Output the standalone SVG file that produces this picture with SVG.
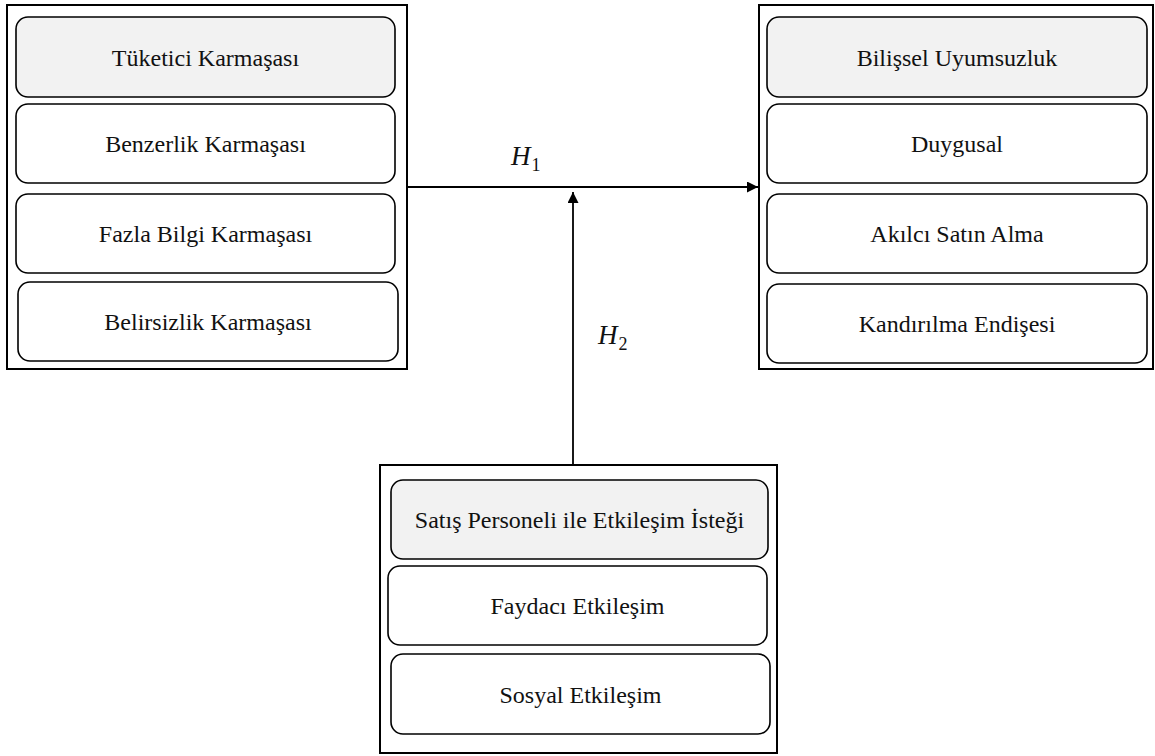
<svg xmlns="http://www.w3.org/2000/svg" width="1155" height="756" viewBox="0 0 1155 756">
<defs>
<style>
.outer{fill:#fff;stroke:#000;stroke-width:2}
.item{fill:#fff;stroke:#000;stroke-width:1.6}
.head{fill:#f2f2f2;stroke:#000;stroke-width:1.6}
.t{font-family:'Liberation Serif','Times New Roman',serif;font-size:24px;fill:#111;text-anchor:middle}
.h{font-family:'Liberation Serif','Times New Roman',serif;font-style:italic;font-size:27px;fill:#111}
.sub{font-style:normal;font-size:18px}
.conn{stroke:#000;stroke-width:1.8;fill:none}
</style>
<marker id="arr" viewBox="0 0 10 10" refX="10" refY="5" markerWidth="11" markerHeight="11" markerUnits="userSpaceOnUse" orient="auto">
<path d="M0,0 L10,5 L0,10 z" fill="#000"/>
</marker>
</defs>
<rect width="1155" height="756" fill="#fff"/>
<g id="tuketici">
<rect class="outer" x="7" y="5" width="400" height="364"/>
<rect class="head" x="16" y="17" width="379" height="80" rx="12"/>
<text class="t" x="205.5" y="66">Tüketici Karmaşası</text>
<rect class="item" x="16" y="104" width="379" height="79" rx="12"/>
<text class="t" x="205.5" y="152">Benzerlik Karmaşası</text>
<rect class="item" x="16" y="194" width="379" height="79" rx="12"/>
<text class="t" x="205.5" y="242">Fazla Bilgi Karmaşası</text>
<rect class="item" x="18" y="282" width="380" height="79" rx="12"/>
<text class="t" x="208" y="330">Belirsizlik Karmaşası</text>
</g>
<g id="bilissel">
<rect class="outer" x="759" y="5" width="394" height="364"/>
<rect class="head" x="767" y="17" width="380" height="80" rx="12"/>
<text class="t" x="957" y="66">Bilişsel Uyumsuzluk</text>
<rect class="item" x="767" y="104" width="380" height="79" rx="12"/>
<text class="t" x="957" y="152">Duygusal</text>
<rect class="item" x="767" y="194" width="380" height="79" rx="12"/>
<text class="t" x="957" y="242">Akılcı Satın Alma</text>
<rect class="item" x="767" y="284" width="380" height="79" rx="12"/>
<text class="t" x="957" y="332">Kandırılma Endişesi</text>
</g>
<g id="satis">
<rect class="outer" x="380" y="465" width="397" height="288"/>
<rect class="head" x="391" y="480" width="377" height="79" rx="12"/>
<text class="t" x="579.5" y="528">Satış Personeli ile Etkileşim İsteği</text>
<rect class="item" x="388" y="566" width="379" height="79" rx="12"/>
<text class="t" x="577.5" y="614">Faydacı Etkileşim</text>
<rect class="item" x="391" y="654" width="379" height="80" rx="12"/>
<text class="t" x="580.5" y="703">Sosyal Etkileşim</text>
</g>
<g id="connectors">
<line class="conn" x1="408" y1="187" x2="758" y2="187" marker-end="url(#arr)"/>
<line class="conn" x1="573" y1="464" x2="573" y2="192" marker-end="url(#arr)"/>
<text class="h" x="511" y="165">H<tspan class="sub" dx="1" dy="6">1</tspan></text>
<text class="h" x="598" y="344">H<tspan class="sub" dx="1" dy="6">2</tspan></text>
</g>
</svg>
